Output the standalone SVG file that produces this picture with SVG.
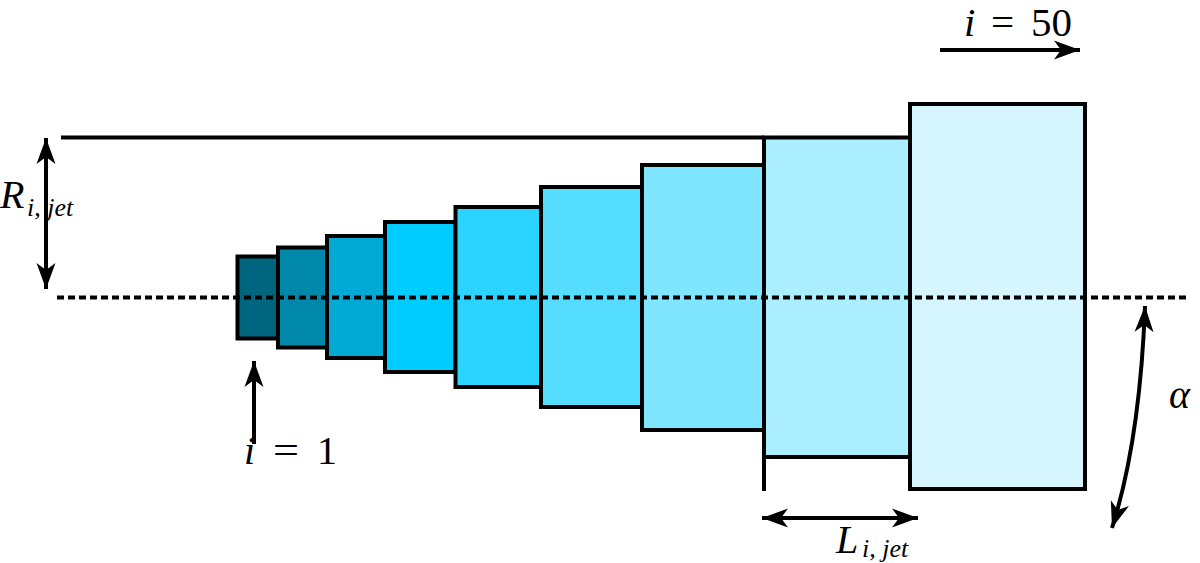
<svg xmlns="http://www.w3.org/2000/svg" width="1200" height="563" viewBox="0 0 1200 563">
<style>
.blk{stroke:#000;stroke-width:4;stroke-linejoin:miter}
.ln{stroke:#000;stroke-width:4;fill:none}
.arr{stroke:#000;stroke-width:4;fill:none;marker-end:url(#ah)}
.arr2{stroke:#000;stroke-width:4;fill:none;marker-start:url(#ahs);marker-end:url(#ah)}
text{font-family:"Liberation Serif","DejaVu Serif","Times New Roman",serif;fill:#000}
.it{font-style:italic}
</style>
<defs>
<marker id="ah" markerUnits="userSpaceOnUse" markerWidth="32" markerHeight="24" viewBox="-28 -12 32 24" refX="0" refY="0" orient="auto">
<path d="M0,0 L-26,-9.5 L-19,0 L-26,9.5 Z" fill="#000"/>
</marker>
<marker id="ahs" markerUnits="userSpaceOnUse" markerWidth="32" markerHeight="24" viewBox="-28 -12 32 24" refX="0" refY="0" orient="auto-start-reverse">
<path d="M0,0 L-26,-9.5 L-19,0 L-26,9.5 Z" fill="#000"/>
</marker>
</defs>
<rect width="1200" height="563" fill="#fff"/>
<g id="segments">
<rect id="seg1" class="blk" x="237.5" y="256.5" width="40.5" height="82" fill="#006680"/>
<rect id="seg2" class="blk" x="278" y="247.5" width="49" height="100" fill="#0088aa"/>
<rect id="seg3" class="blk" x="327" y="236" width="58" height="122" fill="#00aad4"/>
<rect id="seg4" class="blk" x="385" y="222" width="70.5" height="150" fill="#00ccff"/>
<rect id="seg5" class="blk" x="455.5" y="207" width="85.5" height="180" fill="#2ad4ff"/>
<rect id="seg6" class="blk" x="541" y="187" width="101" height="220" fill="#55ddff"/>
<rect id="seg7" class="blk" x="642" y="165" width="122" height="265" fill="#80e5ff"/>
<rect id="seg8" class="blk" x="764" y="137.5" width="146" height="319.5" fill="#aaeeff"/>
<rect id="seg9" class="blk" x="910" y="104" width="175" height="385" fill="#d5f6ff"/>
</g>
<g id="connectors">
<line class="ln" x1="61" y1="137.5" x2="764" y2="137.5"/>
<line class="ln" x1="764" y1="457" x2="764" y2="491"/>
<line class="ln" x1="57" y1="297.5" x2="1186" y2="297.5" stroke-dasharray="7 4"/>
<line class="arr2" x1="46" y1="138" x2="46" y2="289"/>
<line class="arr" x1="254" y1="444" x2="254" y2="361"/>
<line class="arr" x1="940" y1="50" x2="1080" y2="50"/>
<line class="arr2" x1="762" y1="518" x2="918" y2="518"/>
<path class="arr2" d="M1145,306 Q1140,440 1112,528"/>
</g>
<g id="labels">
<text font-size="40"><tspan class="it" x="0" y="208">R</tspan><tspan class="it" x="27" y="216" font-size="26">i, jet</tspan></text>
<text font-size="40"><tspan class="it" x="244" y="464">i</tspan><tspan x="273" y="464" textLength="26" lengthAdjust="spacingAndGlyphs">=</tspan><tspan x="317" y="464">1</tspan></text>
<text font-size="41"><tspan class="it" x="964" y="36">i</tspan><tspan x="991" y="36">=</tspan><tspan x="1031" y="36">50</tspan></text>
<text font-size="40"><tspan class="it" x="836" y="553">L</tspan><tspan class="it" x="862" y="557" font-size="26">i, jet</tspan></text>
<text class="it" font-size="40" x="1169" y="408">α</text>
</g>
</svg>
